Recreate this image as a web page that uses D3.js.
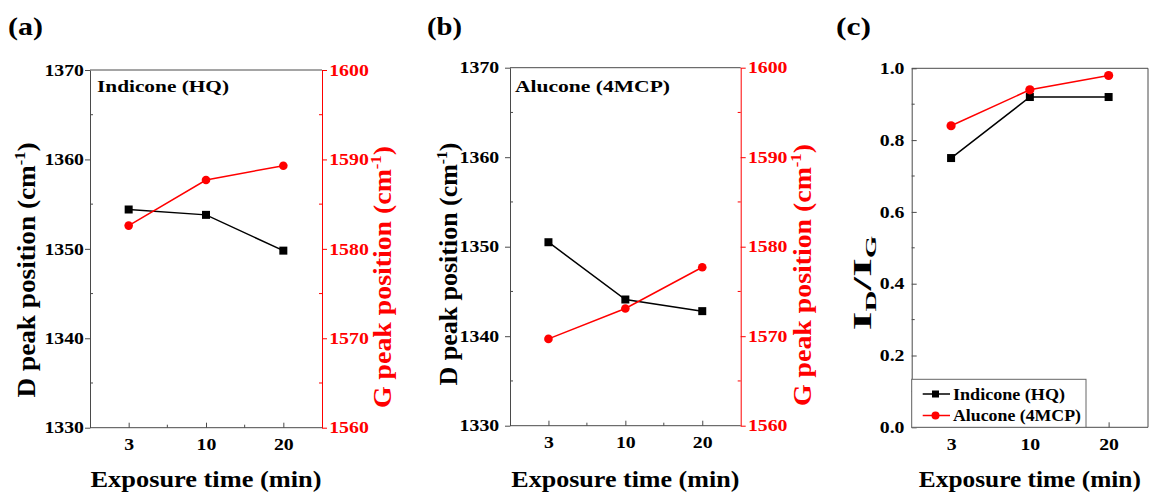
<!DOCTYPE html>
<html>
<head>
<meta charset="utf-8">
<script src="https://cdn.jsdelivr.net/npm/d3@7"></script>
</head>
<body style="margin:0;background:#fff">
<svg id="chart" width="1153" height="495"></svg>
<script>
// values
var exposure = ['3', '10', '20'];
var indiconeD = [1354.4, 1353.8, 1349.8];
var indiconeG = [1582.6, 1587.7, 1589.3];
var aluconeD = [1350.5, 1344.1, 1342.8];
var aluconeG = [1569.7, 1573.1, 1577.7];
var indiconeRatio = [0.75, 0.92, 0.92];
var aluconeRatio = [0.84, 0.94, 0.98];
var dTicks = [1330, 1340, 1350, 1360, 1370];
var gTicks = [1560, 1570, 1580, 1590, 1600];
var ratioTicks = [0, 0.2, 0.4, 0.6, 0.8, 1.0];

var svg = d3.select('#chart');
var RED = '#ff0000', AX = '#4a4a4a';
var FONT = "'Liberation Serif', 'Times New Roman', serif";

function serif(sel) {
  sel.style('font-family', FONT).style('font-weight', 'bold');
}

function stretchText(sel, len) {
  sel.attr('textLength', len).attr('lengthAdjust', 'spacingAndGlyphs');
}

function styleTicks(axisG, color) {
  axisG.selectAll('.tick text').attr('font-size', 16.5).call(serif)
    .attr('fill', color).attr('transform', 'scale(1.2,1)');
  axisG.selectAll('.tick line').attr('stroke', color);
}

function drawPanel(p) {
  var x = d3.scalePoint().domain(exposure).range([p.left, p.right]).padding(0.5);
  var yL = d3.scaleLinear().domain(p.yDomain).range([p.bottom, p.top]);
  var yR = p.gDomain ? d3.scaleLinear().domain(p.gDomain).range([p.bottom, p.top]) : null;
  var g = svg.append('g');

  // frame top (and right when there is no second axis)
  g.append('line').attr('x1', p.left).attr('x2', p.right).attr('y1', p.top).attr('y2', p.top)
    .attr('stroke', AX).attr('stroke-width', 1);
  if (!yR) {
    g.append('line').attr('x1', p.right).attr('x2', p.right).attr('y1', p.top).attr('y2', p.bottom)
      .attr('stroke', AX).attr('stroke-width', 1);
  }

  // x axis
  var xa = g.append('g').attr('transform', 'translate(0,' + p.bottom + ')')
    .call(d3.axisBottom(x).tickSize(-5).tickSizeOuter(0).tickPadding(11));
  xa.select('.domain').attr('stroke', AX).attr('d', 'M' + p.left + ',0H' + p.right);
  styleTicks(xa, '#000');
  xa.selectAll('.tick line').attr('stroke', AX);
  var mids = d3.pairs(exposure).map(function(d) { return (x(d[0]) + x(d[1])) / 2; });
  g.selectAll('.xminor').data(mids).enter().append('line')
    .attr('x1', function(d) { return d; }).attr('x2', function(d) { return d; })
    .attr('y1', p.bottom).attr('y2', p.bottom - 3).attr('stroke', AX);

  // left axis
  var la = g.append('g').attr('transform', 'translate(' + p.left + ',0)')
    .call(d3.axisLeft(yL).tickValues(p.yTicks).tickSize(p.yTickOut).tickSizeOuter(0)
      .tickPadding(p.padL).tickFormat(p.fmt));
  la.select('.domain').attr('stroke', AX);
  styleTicks(la, '#000');
  la.selectAll('.tick line').attr('stroke', AX);
  var lminor = d3.pairs(p.yTicks).map(function(d) { return (d[0] + d[1]) / 2; });
  g.selectAll('.lminor').data(lminor).enter().append('line')
    .attr('x1', p.left).attr('x2', p.left + 3)
    .attr('y1', function(d) { return yL(d); }).attr('y2', function(d) { return yL(d); })
    .attr('stroke', AX);

  // right axis (red)
  if (yR) {
    var ra = g.append('g').attr('transform', 'translate(' + p.right + ',0)')
      .call(d3.axisRight(yR).tickValues(gTicks).tickSize(5).tickSizeOuter(0)
        .tickPadding(p.padR).tickFormat(d3.format('d')));
    ra.select('.domain').attr('stroke', RED);
    styleTicks(ra, RED);
    var rminor = d3.pairs(gTicks).map(function(d) { return (d[0] + d[1]) / 2; });
    g.selectAll('.rminor').data(rminor).enter().append('line')
      .attr('x1', p.right).attr('x2', p.right - 3)
      .attr('y1', function(d) { return yR(d); }).attr('y2', function(d) { return yR(d); })
      .attr('stroke', RED);
  }

  // series
  p.series.forEach(function(s) {
    var sc = s.axis === 'right' ? yR : yL;
    var line = d3.line().x(function(d, i) { return x(exposure[i]); }).y(function(d) { return sc(d); });
    g.append('path').datum(s.values).attr('d', line).attr('fill', 'none')
      .attr('stroke', s.color).attr('stroke-width', 1.5);
    if (s.shape === 'square') {
      g.selectAll(null).data(s.values).enter().append('rect')
        .attr('x', function(d, i) { return x(exposure[i]) - 4; })
        .attr('y', function(d) { return sc(d) - 4; })
        .attr('width', 8).attr('height', 8).attr('fill', s.color);
    } else {
      g.selectAll(null).data(s.values).enter().append('circle')
        .attr('cx', function(d, i) { return x(exposure[i]); })
        .attr('cy', function(d) { return sc(d); })
        .attr('r', s.r).attr('fill', s.color);
    }
  });

  // panel letter
  g.append('text').attr('x', p.letterX).attr('y', 35).attr('font-size', 26).call(serif)
    .text(p.letter).call(stretchText, 35);

  // x title
  g.append('text').attr('x', (p.left + p.right) / 2).attr('y', 487).attr('text-anchor', 'middle')
    .attr('font-size', 24).call(serif).text('Exposure time (min)').call(stretchText, p.xTitleLen);

  // y titles
  var yt = g.append('text').attr('transform', 'translate(' + p.yTitle[0] + ',' + p.yTitle[1] + ') rotate(-90)')
    .attr('text-anchor', 'middle').attr('font-size', 25).call(serif);
  if (yR) {
    yt.append('tspan').text('D peak position (cm');
    yt.append('tspan').attr('font-size', 15).attr('dy', -10).text('-1');
    yt.append('tspan').attr('dy', 10).text(')');
    yt.call(stretchText, p.yTitle[2]);
    var gt = g.append('text').attr('transform', 'translate(' + p.gTitle[0] + ',' + p.gTitle[1] + ') rotate(-90)')
      .attr('text-anchor', 'middle').attr('font-size', 25).call(serif).attr('fill', RED);
    gt.append('tspan').text('G peak position (cm');
    gt.append('tspan').attr('font-size', 15).attr('dy', -10).text('-1');
    gt.append('tspan').attr('dy', 10).text(')');
    gt.call(stretchText, p.gTitle[2]);
  } else {
    yt.append('tspan').text('I');
    yt.append('tspan').attr('font-size', 15).attr('dy', 5).text('D');
    yt.append('tspan').attr('dy', -5).text('/I');
    yt.append('tspan').attr('font-size', 15).attr('dy', 5).text('G');
    yt.call(stretchText, p.yTitle[2]);
  }

  if (p.note) {
    g.append('text').attr('x', p.note[0]).attr('y', p.note[1]).attr('font-size', 17).call(serif)
      .text(p.note[3]).call(stretchText, p.note[2]);
  }
  return { x: x, y: yL, g: g };
}

drawPanel({
  left: 90, right: 322, top: 70, bottom: 427.7,
  yDomain: [1330, 1370], gDomain: [1560, 1600], yTicks: dTicks, yTickOut: 5, padL: 0, padR: 1,
  fmt: d3.format('d'), letter: '(a)', letterX: 8, xTitleLen: 231,
  yTitle: [35, 270, 255], gTitle: [391, 277, 262],
  note: [97, 92, 132, 'Indicone (HQ)'],
  series: [
    { values: indiconeD, color: '#000', shape: 'square', axis: 'left' },
    { values: indiconeG, color: RED, shape: 'circle', r: 4.3, axis: 'right' }
  ]
});

drawPanel({
  left: 510, right: 740.7, top: 67.7, bottom: 425.7,
  yDomain: [1330, 1370], gDomain: [1560, 1600], yTicks: dTicks, yTickOut: 5, padL: 4, padR: 1,
  fmt: d3.format('d'), letter: '(b)', letterX: 427, xTitleLen: 228,
  yTitle: [457, 264, 243], gTitle: [811, 275, 262],
  note: [515, 91.5, 155, 'Alucone (4MCP)'],
  series: [
    { values: aluconeD, color: '#000', shape: 'square', axis: 'left' },
    { values: aluconeG, color: RED, shape: 'circle', r: 4.3, axis: 'right' }
  ]
});

var pc = drawPanel({
  left: 911.7, right: 1148, top: 68.3, bottom: 427.3,
  yDomain: [0, 1.0], gDomain: null, yTicks: ratioTicks, yTickOut: -5, padL: 6,
  fmt: d3.format('.1f'), letter: '(c)', letterX: 836, xTitleLen: 222,
  yTitle: [871, 283, 95],
  series: [
    { values: indiconeRatio, color: '#000', shape: 'square', axis: 'left' },
    { values: aluconeRatio, color: RED, shape: 'circle', r: 4.6, axis: 'left' }
  ]
});

// legend for (c)
var legendItems = [
  { name: 'Indicone (HQ)', color: '#000', shape: 'square', len: 112 },
  { name: 'Alucone (4MCP)', color: RED, shape: 'circle', len: 128 }
];
var lg = pc.g.append('g');
lg.append('rect').attr('x', 911.7).attr('y', 379.3).attr('width', 174.3).attr('height', 48)
  .attr('fill', '#fff').attr('stroke', '#666').attr('stroke-width', 1);
legendItems.forEach(function(d, i) {
  var yy = 394 + i * 21.5;
  lg.append('line').attr('x1', 922.7).attr('x2', 950).attr('y1', yy).attr('y2', yy)
    .attr('stroke', d.color).attr('stroke-width', 1.5);
  if (d.shape === 'square') {
    lg.append('rect').attr('x', 932).attr('y', yy - 3.5).attr('width', 7).attr('height', 7).attr('fill', d.color);
  } else {
    lg.append('circle').attr('cx', 935.5).attr('cy', yy).attr('r', 4).attr('fill', d.color);
  }
  lg.append('text').attr('x', 953).attr('y', yy + 5.5).attr('font-size', 16.5).call(serif)
    .text(d.name).call(stretchText, d.len);
});
</script>
</body>
</html>
